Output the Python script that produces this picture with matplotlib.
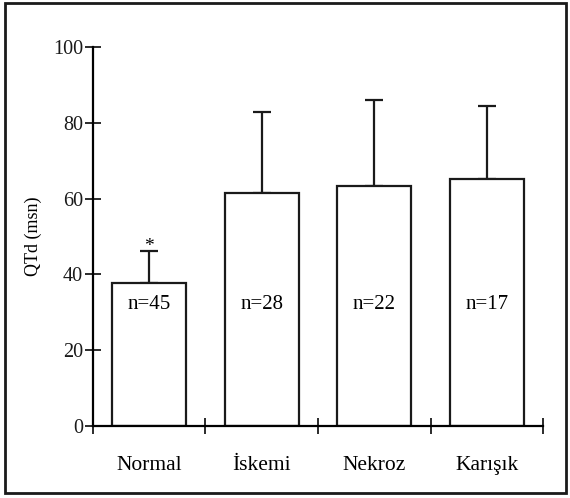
import matplotlib.pyplot as plt
from matplotlib.patches import Rectangle
import numpy as np

# QTd values per group (mean and SD, msn)
groups = ['Normal', 'İskemi', 'Nekroz', 'Karışık']
means = [37.6, 61.4, 63.3, 65.3]
sds = [8.6, 21.4, 22.7, 19.2]
counts = [45, 28, 22, 17]

plt.rcParams['font.family'] = ['Liberation Serif', 'DejaVu Serif']

fig = plt.figure(figsize=(5.70, 4.98), dpi=100)
ax = fig.add_axes([0.163, 0.145, 0.79, 0.760])

x = np.arange(len(groups))
ax.bar(x, means, width=0.655, color='white', edgecolor='#1a1a1a', linewidth=1.6, zorder=2)
# one-sided error bars (upward only)
ax.errorbar(x, means, yerr=[np.zeros(len(sds)), sds], fmt='none', ecolor='#1a1a1a',
            elinewidth=1.6, capsize=6.5, capthick=1.6, zorder=1)

for xi, n in zip(x, counts):
    ax.text(xi, 32, 'n=%d' % n, ha='center', va='center', fontsize=15)

# significance mark above the Normal group
ax.text(x[0], means[0] + sds[0] - 1.0, '*', ha='center', va='bottom', fontsize=14)

ax.set_xlim(-0.5, 3.5)
ax.set_ylim(0, 100)
ax.set_yticks([0, 20, 40, 60, 80, 100])
ax.set_xticks([-0.5, 0.5, 1.5, 2.5, 3.5])
ax.set_xticklabels([])
ax.tick_params(axis='both', direction='inout', length=12, width=1.3, labelsize=14.5, colors='#1a1a1a')
ax.tick_params(axis='y', pad=1)

for xi, g in zip(x, groups):
    ax.text(xi, -10.5, g, ha='center', va='center', fontsize=15.5)

ax.set_ylabel('QTd (msn)', fontsize=13, labelpad=8)
ax.spines['top'].set_visible(False)
ax.spines['right'].set_visible(False)
ax.spines['left'].set_linewidth(1.6)
ax.spines['bottom'].set_linewidth(1.6)

# frame around the whole figure
fig.patches.append(Rectangle((0.009, 0.01), 0.984, 0.984, transform=fig.transFigure,
                             fill=False, edgecolor='#1a1a1a', linewidth=2))

fig.savefig('out.png', dpi=100)
